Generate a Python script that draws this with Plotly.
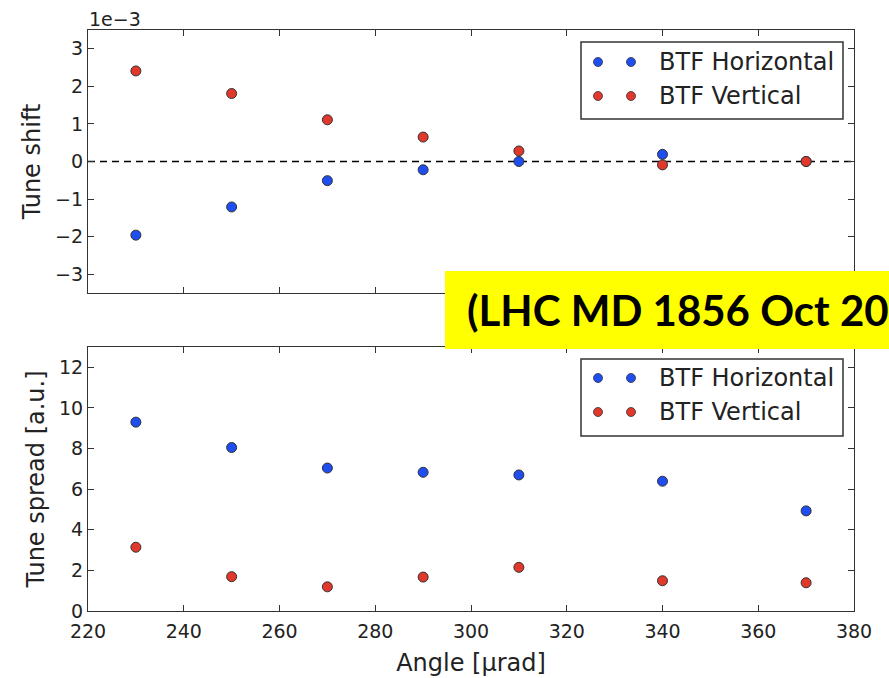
import plotly.graph_objects as go

# Scan angle of the collimator [µrad]
angles = [230, 250, 270, 290, 310, 340, 370]

# Tune shift measured with BTF, in units of 1e-3
shift_horizontal = [-1.96, -1.21, -0.51, -0.22, 0.00, 0.19, 0.00]
shift_vertical = [2.41, 1.81, 1.11, 0.65, 0.28, -0.09, 0.00]

# Tune spread measured with BTF [a.u.]
spread_horizontal = [9.30, 8.05, 7.04, 6.83, 6.70, 6.39, 4.93]
spread_vertical = [3.14, 1.69, 1.19, 1.67, 2.15, 1.49, 1.39]

series_names = ["BTF Horizontal", "BTF Vertical"]
x_ticks = [220, 240, 260, 280, 300, 320, 340, 360, 380]
shift_ticks = [-3, -2, -1, 0, 1, 2, 3]
spread_ticks = [0, 2, 4, 6, 8, 10, 12]

W, H = 889, 678
BLUE = "#1f4ef0"
RED = "#e0392b"
INK = "#222222"
FONT = "DejaVu Sans"


def px_x(p):
    return p / W


def px_y(p):
    return 1 - p / H


marker_style = dict(size=10, line=dict(color="#333333", width=1))

fig = go.Figure()
for y_vals, color, name in [(shift_horizontal, BLUE, series_names[0]),
                            (shift_vertical, RED, series_names[1])]:
    fig.add_trace(go.Scatter(x=angles, y=y_vals, mode="markers", name=name,
                             marker=dict(color=color, **marker_style),
                             xaxis="x", yaxis="y", showlegend=False))
for y_vals, color, name in [(spread_horizontal, BLUE, series_names[0]),
                            (spread_vertical, RED, series_names[1])]:
    fig.add_trace(go.Scatter(x=angles, y=y_vals, mode="markers", name=name,
                             marker=dict(color=color, **marker_style),
                             xaxis="x2", yaxis="y2", showlegend=False))

axis_common = dict(showgrid=False, zeroline=False, showline=True, automargin=False,
                   linecolor="#333333", linewidth=1.2, mirror="ticks",
                   ticks="inside", ticklen=6, tickcolor="#333333", tickwidth=1,
                   tickfont=dict(family=FONT, size=19, color=INK))

x_dom = [px_x(88), px_x(854)]
fig.update_layout(
    width=W, height=H,
    margin=dict(l=0, r=0, t=0, b=0, autoexpand=False),
    paper_bgcolor="white", plot_bgcolor="white",
    xaxis=dict(domain=x_dom, anchor="y", range=[220, 380], tickvals=x_ticks,
               showticklabels=False, **axis_common),
    yaxis=dict(domain=[px_y(293), px_y(30)], anchor="x", range=[-3.5, 3.5],
               tickvals=shift_ticks,
               title=dict(text="Tune shift", standoff=7,
                          font=dict(family=FONT, size=24, color=INK)),
               **axis_common),
    xaxis2=dict(domain=x_dom, anchor="y2", range=[220, 380], tickvals=x_ticks,
                matches="x", ticklabelstandoff=3,
                title=dict(text="Angle [µrad]", standoff=13,
                           font=dict(family=FONT, size=24, color=INK)),
                **axis_common),
    yaxis2=dict(domain=[px_y(611), px_y(347)], anchor="x2", range=[0, 13],
                tickvals=spread_ticks,
                title=dict(text="Tune spread [a.u.]", standoff=7,
                           font=dict(family=FONT, size=24, color=INK)),
                **axis_common),
)

# Dashed zero reference in the tune-shift panel
fig.add_shape(type="line", xref="x domain", yref="y", x0=0, x1=1, y0=0, y1=0,
              line=dict(color="black", width=1.5, dash="7px,5px"), layer="below")

# Axis offset label for the tune-shift scale
fig.add_annotation(text="1e−3", xref="paper", yref="paper",
                   x=px_x(87), y=px_y(19), xanchor="left", yanchor="middle",
                   showarrow=False, font=dict(family=FONT, size=19, color=INK))


def add_legend(top, bottom, row1, row2):
    fig.add_shape(type="rect", xref="paper", yref="paper",
                  x0=px_x(581), x1=px_x(843), y0=px_y(bottom), y1=px_y(top),
                  line=dict(color="#333333", width=1.5), fillcolor="white",
                  layer="above")
    for row_y, color, label in [(row1, BLUE, series_names[0]),
                                (row2, RED, series_names[1])]:
        for mx in (598, 631):
            fig.add_shape(type="circle", xref="paper", yref="paper",
                          xsizemode="pixel", ysizemode="pixel",
                          xanchor=px_x(mx), yanchor=px_y(row_y),
                          x0=-4.5, x1=4.5, y0=-4.5, y1=4.5,
                          fillcolor=color, line=dict(color="#333333", width=0.8),
                          layer="above")
        fig.add_annotation(text=label, xref="paper", yref="paper",
                           x=px_x(657), y=px_y(row_y), xanchor="left",
                           yanchor="middle", showarrow=False,
                           font=dict(family=FONT, size=24, color=INK))


add_legend(42, 119, 62, 96)
add_legend(359, 436, 378, 412)

# Session tag
fig.add_shape(type="rect", xref="paper", yref="paper",
              x0=px_x(445), x1=1.02, y0=px_y(349), y1=px_y(271),
              fillcolor="#ffff00", line=dict(width=0), layer="above")
fig.add_annotation(text="<b>(LHC MD 1856 Oct 20</b>", xref="paper", yref="paper",
                   x=px_x(465), y=px_y(310), xanchor="left", yanchor="middle",
                   showarrow=False, font=dict(family="Lato", size=42, color="black"))

fig.write_html("out.html")
